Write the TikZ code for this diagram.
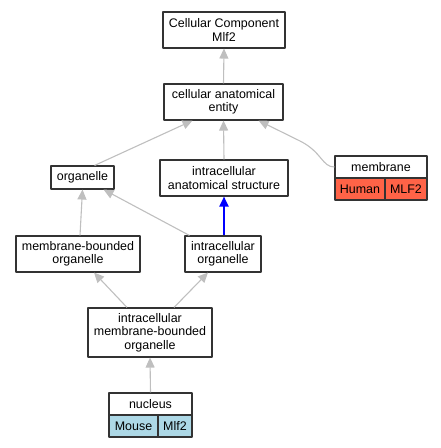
\documentclass[tikz,border=0pt]{standalone}
\usepackage{fontspec}
\setmainfont{Liberation Sans}
\usetikzlibrary{arrows.meta}
\definecolor{humanred}{RGB}{255,99,71}
\definecolor{mouseblue}{RGB}{173,216,230}

\begin{document}
\begin{tikzpicture}[x=1bp, y=-1bp, >=Stealth, line join=round,
    term/.style={draw=black!80, line width=1.1bp, inner sep=0pt, align=center,
      font=\fontsize{12.5}{13.4}\selectfont},
    isa/.style={draw=black!25, line width=1.1bp,
      -{Triangle[length=10bp, width=9bp]}},
    partof/.style={draw=blue, line width=2bp,
      -{Triangle[length=10bp, width=9bp]}}]
    \useasboundingbox (0,0) rectangle (441,448);

    % terms
    \node[term, minimum width=122bp, minimum height=36bp] (cc)   at (224,30)    {Cellular Component\\Mlf2};
    \node[term, minimum width=119bp, minimum height=36bp] (cae)  at (223.5,102) {cellular anatomical\\entity};
    \node[term, minimum width=63bp,  minimum height=23bp] (org)  at (82.5,177.5) {organelle};
    \node[term, minimum width=128bp, minimum height=36bp] (ias)  at (224,178)   {intracellular\\anatomical structure};
    \node[term, minimum width=124bp, minimum height=36bp] (mbo)  at (78,254)    {membrane-bounded\\organelle};
    \node[term, minimum width=76bp,  minimum height=36bp] (io)   at (223,254)   {intracellular\\organelle};
    \node[term, minimum width=124bp, minimum height=49bp] (imbo) at (150,332.5) {intracellular\\membrane-bounded\\organelle};

    % annotated terms
    \node[term, minimum width=92bp, minimum height=22bp] (memb)  at (381,167) {membrane};
    \node[term, fill=humanred, minimum width=50bp, minimum height=22bp] (human) at (360,189) {Human};
    \node[term, fill=humanred, minimum width=42bp, minimum height=22bp] (hgene) at (406,189) {MLF2};

    \node[term, minimum width=83bp, minimum height=22bp] (nuc)   at (150.5,404) {nucleus};
    \node[term, fill=mouseblue, minimum width=49bp, minimum height=22bp] (mouse) at (133.5,426) {Mouse};
    \node[term, fill=mouseblue, minimum width=34bp, minimum height=22bp] (mgene) at (175,426) {Mlf2};

    % is-a links
    \draw[isa] (cae.north) -- (cc.south);
    \draw[isa] ([xshift=-20bp]org.north east) -- ([xshift=-31bp]cae.south);
    \draw[isa] (ias.north) -- (cae.south);
    \draw[isa] (memb.west) .. controls (322,167) and (322,152) .. (300,141) -- ([xshift=-25bp]cae.south east);
    \draw[isa] ([xshift=2bp]mbo.north) -- (org.south);
    \draw[isa] ([xshift=5bp]io.north west) -- ([xshift=-11bp]org.south east);
    \draw[isa] ([xshift=-23bp]imbo.north) -- ([xshift=16bp]mbo.south);
    \draw[isa] ([xshift=24bp]imbo.north) -- ([xshift=-15bp]io.south);
    \draw[isa] (nuc.north) -- (imbo.south);

    % part-of link
    \draw[partof] ([xshift=1bp]io.north) -- (ias.south);
\end{tikzpicture}
\end{document}
